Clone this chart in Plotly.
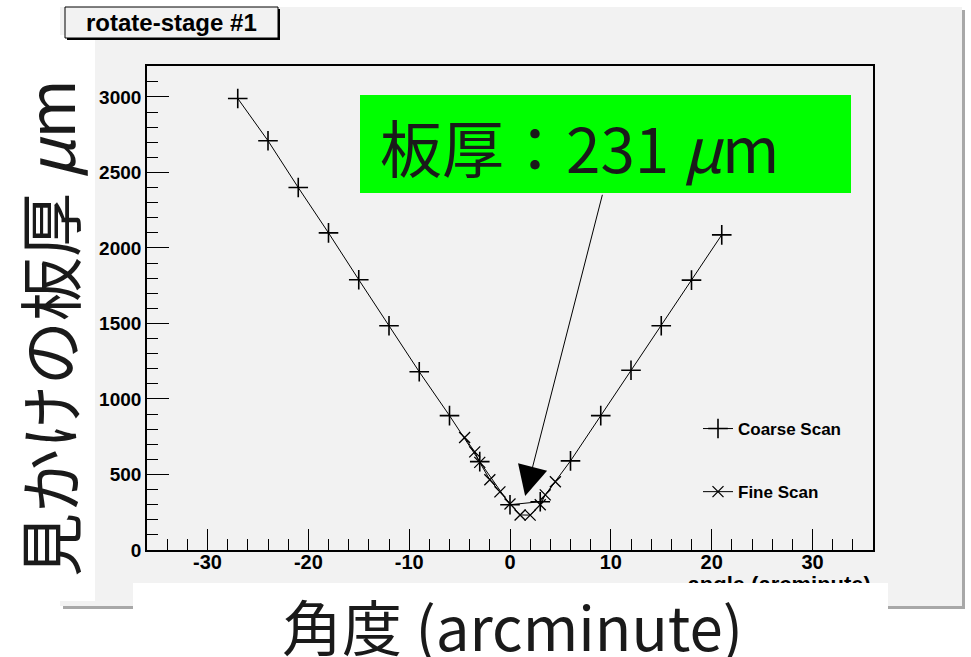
import plotly.graph_objects as go

# ---- data ----
coarse_x = [-27, -24, -21, -18, -15, -12, -9, -6, -3, 0, 3, 6, 9, 12, 15, 18, 21]
coarse_y = [2990, 2710, 2400, 2100, 1790, 1485, 1180, 890, 585, 300, 320, 590, 890, 1190, 1485, 1787, 2087]
fine_x = [-4.5, -3.5, -3, -2, -1, 0, 1, 2, 3, 3.5, 4.5]
fine_y = [745, 650, 580, 465, 385, 305, 232, 231, 300, 365, 452]

x_tickvals = [-30, -20, -10, 0, 10, 20, 30]
x_ticktext = ["-30", "-20", "-10", "0", "10", "20", "30"]
y_tickvals = [0, 500, 1000, 1500, 2000, 2500, 3000]
y_ticktext = ["0", "500", "1000", "1500", "2000", "2500", "3000"]

series_names = ["Coarse Scan", "Fine Scan"]
title_text = "rotate-stage #1"
root_xtitle = "angle (arcminute)"
x_label = "角度 (arcminute)"
y_label = "見かけの板厚 <i>μ</i>m"
note_text = "板厚：231 <i>μ</i>m"
arrow_tip = (1.5, 357)
arrow_tail = (9.2, 2362)

W, H = 971, 657
L, R, T, B = 147, 98, 66, 107
PW, PH = W - L - R, H - T - B


def px(xp):
    return (xp - L) / PW


def py(yp):
    return (H - B - yp) / PH


fig = go.Figure()
fig.add_trace(go.Scatter(
    x=coarse_x, y=coarse_y, mode="lines+markers", name=series_names[0],
    line=dict(color="black", width=1),
    marker=dict(symbol="cross-thin", size=14, line=dict(color="black", width=1.6)),
    legendgroup="a",
))
fig.add_trace(go.Scatter(
    x=fine_x, y=fine_y, mode="lines+markers", name=series_names[1],
    line=dict(color="black", width=1),
    marker=dict(symbol="x-thin", size=11, line=dict(color="black", width=1.3)),
    legendgroup="b",
))
# invisible helper trace carrying the clipped ROOT axis title on a second x axis
fig.add_trace(go.Scatter(x=[0], y=[0], xaxis="x2", mode="markers",
                         marker=dict(opacity=0), showlegend=False, hoverinfo="skip"))

xtickfont = dict(family="Liberation Sans", size=20, color="black", weight="bold")
ytickfont = dict(family="Liberation Sans", size=19, color="black", weight="bold")

fig.update_layout(
    width=W, height=H,
    margin=dict(l=L, r=R, t=T, b=B),
    paper_bgcolor="white",
    plot_bgcolor="#f2f2f2",
    showlegend=True,
    legend=dict(
        x=px(698), y=py(411), xanchor="left", yanchor="top",
        bgcolor="rgba(0,0,0,0)", tracegroupgap=38,
        font=dict(family="Liberation Sans", size=17, color="black", weight="bold"),
    ),
    xaxis=dict(
        range=[-36, 36], tickvals=x_tickvals, ticktext=x_ticktext,
        ticks="inside", ticklen=21, tickwidth=1.3, tickcolor="black",
        minor=dict(ticks="inside", ticklen=11, dtick=2, tick0=0, tickcolor="black", tickwidth=1.3),
        showline=True, linecolor="black", linewidth=1.6, mirror=True,
        showgrid=False, zeroline=False, tickfont=xtickfont, ticklabelstandoff=-7,
    ),
    xaxis2=dict(
        overlaying="x", matches="x", side="bottom",
        tickvals=[26.7], ticktext=[root_xtitle], ticks="",
        showline=False, showgrid=False, zeroline=False,
        ticklabelstandoff=19,
        tickfont=dict(family="Liberation Sans", size=22, color="black", weight="bold"),
    ),
    yaxis=dict(
        range=[0, 3205], tickvals=y_tickvals, ticktext=y_ticktext,
        ticks="inside", ticklen=22, tickwidth=1.3, tickcolor="black",
        minor=dict(ticks="inside", ticklen=11, dtick=100, tick0=0, tickcolor="black", tickwidth=1.3),
        showline=True, linecolor="black", linewidth=1.6, mirror=True,
        showgrid=False, zeroline=False, tickfont=ytickfont,
    ),
)

shapes = [
    # ROOT canvas shadow + canvas
    dict(type="rect", xref="paper", yref="paper", layer="below",
         x0=px(63), x1=px(965), y0=py(609), y1=py(10),
         fillcolor="#a8a8a8", line=dict(width=0)),
    dict(type="rect", xref="paper", yref="paper", layer="below",
         x0=px(60), x1=px(962), y0=py(606), y1=py(7),
         fillcolor="#f2f2f2", line=dict(width=0)),
    # white overlay boxes behind the big labels
    dict(type="rect", xref="paper", yref="paper", layer="above",
         x0=px(-5), x1=px(95), y0=py(601), y1=py(35),
         fillcolor="white", line=dict(width=0)),
    dict(type="rect", xref="paper", yref="paper", layer="above",
         x0=px(133), x1=px(888), y0=py(662), y1=py(583),
         fillcolor="white", line=dict(width=0)),
    # title box shadow + box
    dict(type="rect", xref="paper", yref="paper", layer="above",
         x0=px(67), x1=px(280), y0=py(40), y1=py(9),
         fillcolor="black", line=dict(width=0)),
    dict(type="rect", xref="paper", yref="paper", layer="above",
         x0=px(65), x1=px(278), y0=py(38), y1=py(7),
         fillcolor="#f2f2f2", line=dict(color="black", width=1)),
    # green note box
    dict(type="rect", xref="paper", yref="paper", layer="above",
         x0=px(360), x1=px(851), y0=py(193), y1=py(95),
         fillcolor="#00ff00", line=dict(width=0)),
]
fig.update_layout(shapes=shapes)

annotations = [
    dict(text=title_text, xref="paper", yref="paper", x=px(171), y=py(22),
         xanchor="center", yanchor="middle", showarrow=False,
         font=dict(family="Liberation Sans", size=24, color="black", weight="bold")),
    dict(text=note_text, xref="paper", yref="paper", x=px(378), y=py(146),
         xanchor="left", yanchor="middle", showarrow=False,
         font=dict(family="Noto Sans CJK JP", size=62, color="#1a1a1a")),
    dict(text=x_label, xref="paper", yref="paper", x=px(512), y=py(624),
         xanchor="center", yanchor="middle", showarrow=False,
         font=dict(family="Noto Sans CJK JP", size=60, color="#1a1a1a")),
    dict(text=y_label, xref="paper", yref="paper", x=px(47), y=py(328),
         xanchor="center", yanchor="middle", showarrow=False, textangle=-90,
         font=dict(family="Noto Sans CJK JP", size=64, color="#1a1a1a")),
    dict(text="", x=arrow_tip[0], y=arrow_tip[1], xref="x", yref="y",
         ax=arrow_tail[0], ay=arrow_tail[1], axref="x", ayref="y",
         showarrow=True, arrowhead=2, arrowsize=6, arrowwidth=1, arrowcolor="black"),
]
fig.update_layout(annotations=annotations)

fig.write_html(
    "out.html",
    config={"displayModeBar": False},
    post_script="document.body.style.margin='0px';document.documentElement.style.overflow='hidden';",
)
